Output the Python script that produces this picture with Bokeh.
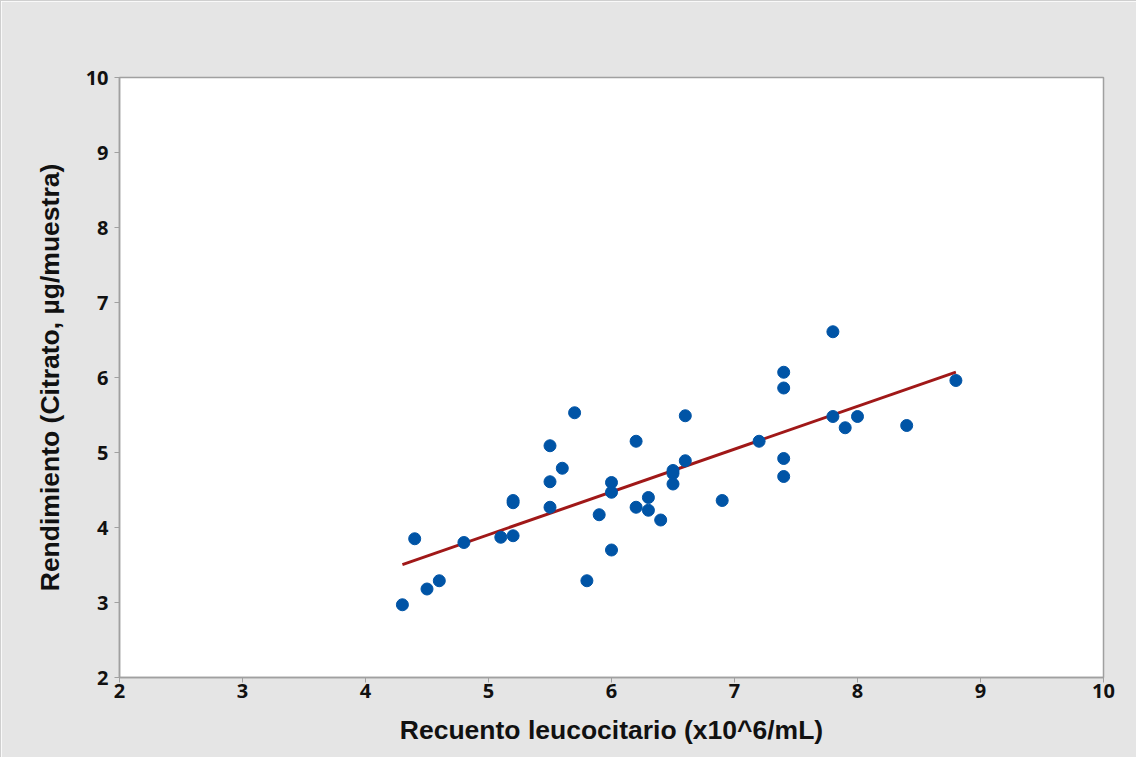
import numpy as np
from bokeh.plotting import figure
from bokeh.models import FixedTicker, Range1d
from bokeh.embed import file_html
from bokeh.resources import INLINE

# Recuento leucocitario (x10^6/mL)
x_vals = [4.3, 4.4, 4.5, 4.6, 4.8, 5.1, 5.2, 5.2, 5.2, 5.5, 5.5, 5.5, 5.6, 5.7,
          5.8, 5.9, 6.0, 6.0, 6.0, 6.2, 6.2, 6.3, 6.3, 6.4, 6.5, 6.5, 6.5, 6.6,
          6.6, 6.9, 7.2, 7.4, 7.4, 7.4, 7.4, 7.8, 7.8, 7.9, 8.0, 8.4, 8.8]
# Rendimiento (Citrato, µg/muestra)
y_vals = [2.97, 3.85, 3.18, 3.29, 3.80, 3.87, 3.89, 4.36, 4.33, 4.27, 4.61, 5.09,
          4.79, 5.53, 3.29, 4.17, 3.70, 4.60, 4.47, 5.15, 4.27, 4.40, 4.23, 4.10,
          4.76, 4.72, 4.58, 5.49, 4.89, 4.36, 5.15, 6.07, 5.86, 4.92, 4.68, 6.61,
          5.48, 5.33, 5.48, 5.36, 5.96]

x_ticks = [2, 3, 4, 5, 6, 7, 8, 9, 10]
y_ticks = [2, 3, 4, 5, 6, 7, 8, 9, 10]

# least-squares fitted line across the data range
slope, intercept = np.polyfit(x_vals, y_vals, 1)
fit_x = [min(x_vals), max(x_vals)]
fit_y = [intercept + slope * v for v in fit_x]

p = figure(width=1136, height=757, output_backend="svg", toolbar_location=None,
           x_range=Range1d(2, 10), y_range=Range1d(2, 10),
           min_border_left=118, min_border_right=34, min_border_top=76, min_border_bottom=81)
p.styles = {"border-top": "1px solid #cfcfcf", "border-left": "1px solid #cfcfcf"}
p.background_fill_color = "white"
p.border_fill_color = "#e5e5e5"
p.outline_line_color = "#a0a0a0"
p.outline_line_width = 1.5
p.grid.visible = False

p.line(fit_x, fit_y, line_color="#a01818", line_width=3)
p.scatter(x_vals, y_vals, size=12, fill_color="#0054a6", line_color="#0054a6")

for ax, ticks in ((p.xaxis, x_ticks), (p.yaxis, y_ticks)):
    ax.ticker = FixedTicker(ticks=ticks)
    ax.axis_line_color = "#a0a0a0"
    ax.axis_line_width = 1.5
    ax.major_tick_line_color = "#a0a0a0"
    ax.major_tick_in = 0
    ax.major_tick_out = 5
    ax.minor_tick_line_color = None
    ax.major_label_text_font = "Open Sans"
    ax.major_label_text_font_size = "20px"
    ax.major_label_text_font_style = "bold"
    ax.major_label_text_color = "#111111"
    ax.axis_label_text_font = "Liberation Sans"
    ax.axis_label_text_font_size = "26.5px"
    ax.axis_label_text_font_style = "bold"
    ax.axis_label_text_color = "#111111"

p.xaxis.axis_label = "Recuento leucocitario (x10^6/mL)"
p.yaxis.axis_label = "Rendimiento (Citrato, µg/muestra)"
p.xaxis.major_label_standoff = 1
p.yaxis.major_label_standoff = 6
p.xaxis.axis_label_standoff = 14
p.yaxis.axis_label_standoff = 18

open("out.html", "w").write(file_html(p, INLINE))
